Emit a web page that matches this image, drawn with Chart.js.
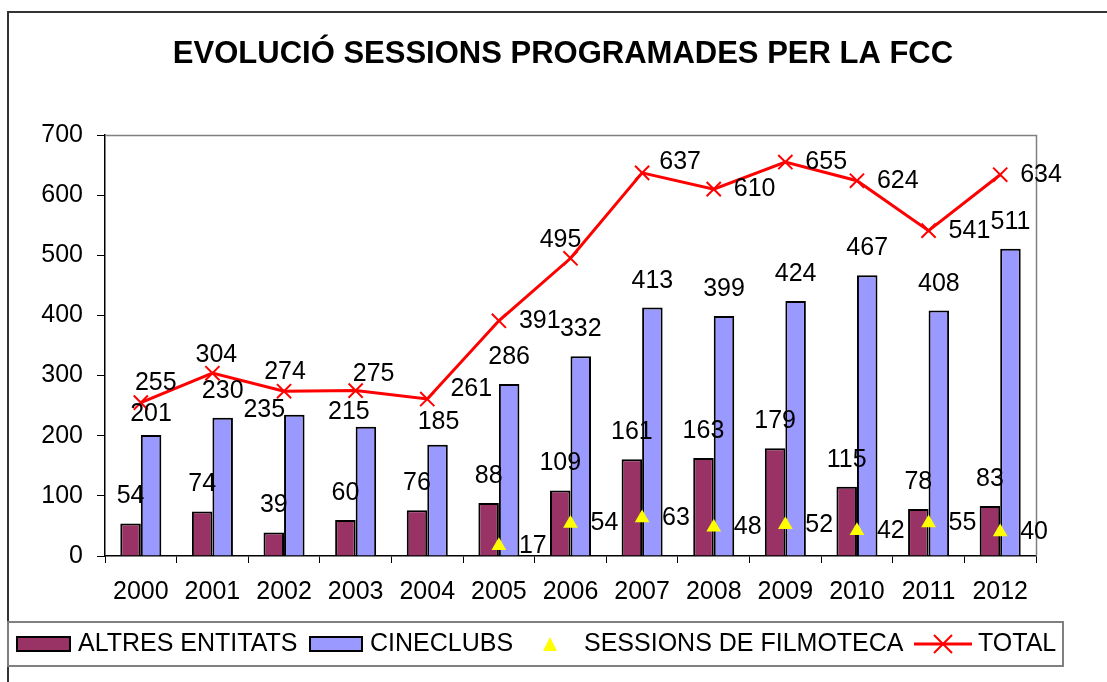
<!DOCTYPE html>
<html>
<head>
<meta charset="utf-8">
<script src="https://cdn.jsdelivr.net/npm/chart.js@4"></script>
<style>
  html, body { margin: 0; padding: 0; background: #fff; }
  canvas { display: block; }
</style>
</head>
<body>
<canvas id="chart" width="1107" height="682"></canvas>
<script>
const years = ['2000','2001','2002','2003','2004','2005','2006','2007','2008','2009','2010','2011','2012'];
const altres = [54, 74, 39, 60, 76, 88, 109, 161, 163, 179, 115, 78, 83];
const cineclubs = [201, 230, 235, 215, 185, 286, 332, 413, 399, 424, 467, 408, 511];
const filmoteca = [null, null, null, null, null, 17, 54, 63, 48, 52, 42, 55, 40];
const total = [255, 304, 274, 275, 261, 391, 495, 637, 610, 655, 624, 541, 634];
const yTicks = [0, 100, 200, 300, 400, 500, 600, 700];

const FONT = '"Liberation Sans", Arial, sans-serif';
const FS = 25;

// label nudges (centre offset from point) where Excel had moved them by hand
const totalNudge = [[15,-20],[4,-18],[1,-19],[18,-16],[44,-10],null,[-10,-18],[38,-11],null,null,null,null,null];
const cineNudge = [[0,-21],null,[-30,-5],[-17,-15],[1,-23],null,null,null,null,null,null,null,null];

const labelsPlugin = {
  id: 'labels',
  afterDatasetsDraw(chart) {
    const ctx = chart.ctx;
    ctx.save();
    ctx.font = FS + 'px ' + FONT;
    ctx.fillStyle = '#000';
    ctx.textBaseline = 'middle';
    chart.data.datasets.forEach((ds, di) => {
      const meta = chart.getDatasetMeta(di);
      meta.data.forEach((el, i) => {
        const v = ds.data[i];
        if (v == null) return;
        const txt = String(v);
        if (ds.type === 'bar') {
          let n = (di === 1 && cineNudge[i]) ? cineNudge[i] : [0, -27];
          ctx.textAlign = 'center';
          ctx.fillText(txt, el.x + n[0], el.y + n[1]);
        } else if (di === 2) {
          ctx.textAlign = 'left';
          ctx.fillText(txt, el.x + 20, el.y);
        } else {
          const n = totalNudge[i];
          if (n) {
            ctx.textAlign = 'center';
            ctx.fillText(txt, el.x + n[0], el.y + n[1]);
          } else {
            ctx.textAlign = 'left';
            ctx.fillText(txt, el.x + 20, el.y);
          }
        }
      });
    });
    ctx.restore();
  }
};

const framePlugin = {
  id: 'frame',
  beforeDatasetsDraw(chart) {
    const ctx = chart.ctx, a = chart.chartArea;
    ctx.save();
    ctx.strokeStyle = '#808080';
    ctx.lineWidth = 1.5;
    ctx.beginPath();
    ctx.moveTo(a.left, a.top + 0.5);
    ctx.lineTo(a.right + 0.5, a.top + 0.5);
    ctx.lineTo(a.right + 0.5, a.bottom);
    ctx.stroke();
    ctx.restore();
  },
  afterDraw(chart) {
    const ctx = chart.ctx;
    ctx.save();
    // outer chart border
    ctx.strokeStyle = '#333';
    ctx.lineWidth = 2;
    ctx.beginPath();
    ctx.moveTo(8, 682);
    ctx.lineTo(8, 12);
    ctx.lineTo(1107, 12);
    ctx.stroke();

    // title
    ctx.fillStyle = '#000';
    ctx.font = 'bold 31px ' + FONT;
    ctx.textAlign = 'center';
    ctx.textBaseline = 'middle';
    ctx.fillText('EVOLUCIÓ SESSIONS PROGRAMADES PER LA FCC', 563, 54);

    // legend
    ctx.strokeStyle = '#808080';
    ctx.lineWidth = 2;
    ctx.strokeRect(8, 622, 1055, 44);
    const ly = 644;
    ctx.lineWidth = 2;
    ctx.strokeStyle = '#000';
    ctx.fillStyle = '#993366';
    ctx.fillRect(17, 637, 53, 14);
    ctx.strokeRect(17, 637, 53, 14);
    ctx.fillStyle = '#9999FF';
    ctx.fillRect(310, 637, 52, 14);
    ctx.strokeRect(310, 637, 52, 14);
    ctx.fillStyle = '#FFFF00';
    ctx.beginPath();
    ctx.moveTo(550, 637);
    ctx.lineTo(557, 651);
    ctx.lineTo(543, 651);
    ctx.closePath();
    ctx.fill();
    ctx.strokeStyle = '#FF0000';
    ctx.lineWidth = 3;
    ctx.beginPath();
    ctx.moveTo(914, ly);
    ctx.lineTo(972, ly);
    ctx.stroke();
    ctx.lineWidth = 2;
    ctx.beginPath();
    ctx.moveTo(934, ly - 9); ctx.lineTo(952, ly + 9);
    ctx.moveTo(952, ly - 9); ctx.lineTo(934, ly + 9);
    ctx.stroke();

    ctx.fillStyle = '#000';
    ctx.font = FS + 'px ' + FONT;
    ctx.textAlign = 'left';
    ctx.fillText('ALTRES ENTITATS', 78, ly);
    ctx.fillText('CINECLUBS', 370, ly);
    ctx.fillText('SESSIONS DE FILMOTECA', 584, ly);
    ctx.fillText('TOTAL', 978, ly);
    ctx.restore();
  }
};

const chart = new Chart(document.getElementById('chart').getContext('2d'), {
  type: 'bar',
  data: {
    labels: years,
    datasets: [
      {
        type: 'bar',
        label: 'ALTRES ENTITATS',
        data: altres,
        backgroundColor: '#993366',
        borderColor: '#000',
        borderWidth: 2,
        order: 2
      },
      {
        type: 'bar',
        label: 'CINECLUBS',
        data: cineclubs,
        backgroundColor: '#9999FF',
        borderColor: '#000',
        borderWidth: 2,
        order: 2
      },
      {
        type: 'line',
        label: 'SESSIONS DE FILMOTECA',
        data: filmoteca,
        showLine: false,
        pointStyle: 'triangle',
        pointRadius: 8.5,
        backgroundColor: '#FFFF00',
        borderColor: '#FFFF00',
        pointBorderWidth: 0,
        order: 1
      },
      {
        type: 'line',
        label: 'TOTAL',
        data: total,
        borderColor: '#FF0000',
        borderWidth: 3,
        tension: 0,
        pointStyle: 'crossRot',
        pointRadius: 10,
        pointBorderWidth: 2,
        pointBorderColor: '#FF0000',
        order: 0
      }
    ]
  },
  options: {
    responsive: false,
    animation: false,
    devicePixelRatio: 1,
    categoryPercentage: 0.573,
    barPercentage: 1,
    layout: { padding: { left: 0, right: 71, top: 135, bottom: 0 } },
    plugins: {
      legend: { display: false },
      title: { display: false },
      tooltip: { enabled: false }
    },
    scales: {
      x: {
        offset: true,
        grid: { offset: true, drawOnChartArea: false, drawTicks: true, tickLength: 7, color: '#000' },
        border: { color: '#000', width: 1.5 },
        ticks: { color: '#000', font: { family: FONT, size: FS }, padding: 14, maxRotation: 0 },
        afterFit(s) { s.height = 126; }
      },
      y: {
        min: 0,
        max: 700,
        afterBuildTicks(s) { s.ticks = yTicks.map(v => ({ value: v })); },
        grid: { drawOnChartArea: false, drawTicks: true, tickLength: 8, color: '#000' },
        border: { color: '#000', width: 1.5 },
        ticks: { color: '#000', font: { family: FONT, size: FS }, padding: 14 },
        afterFit(s) { s.width = 105; }
      }
    }
  },
  plugins: [framePlugin, labelsPlugin]
});
</script>
</body>
</html>
